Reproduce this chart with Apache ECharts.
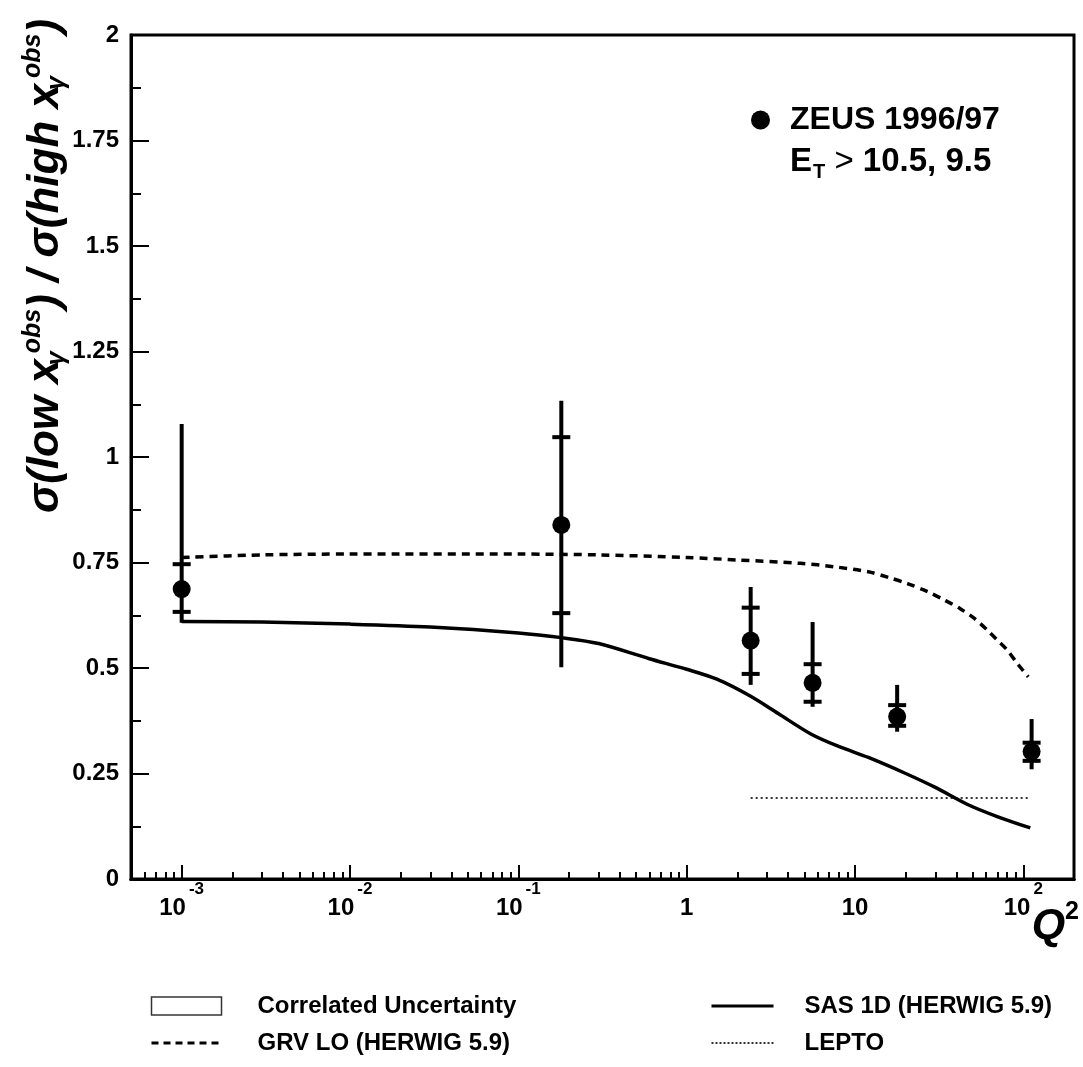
<!DOCTYPE html>
<html>
<head>
<meta charset="utf-8">
<script src="https://cdn.jsdelivr.net/npm/echarts@6/dist/echarts.min.js"></script>
<style>
  html, body { margin: 0; padding: 0; background: #fff; }
  #chart { width: 1083px; height: 1067px; }
</style>
</head>
<body>
<div id="chart"></div>
<script>
// ZEUS 1996/97 dijets: sigma(low x_gamma^obs) / sigma(high x_gamma^obs) versus Q^2

// measured points
const q2Points  = [0.001, 0.18, 2.4, 5.6, 17.8, 112];
const ratio     = [0.687, 0.839, 0.565, 0.465, 0.385, 0.302];
const statLow   = [0.633, 0.630, 0.486, 0.420, 0.363, 0.280];
const statHigh  = [0.746, 1.047, 0.643, 0.509, 0.412, 0.323];
const totLow    = [0.607, 0.502, 0.460, 0.408, 0.349, 0.260];
const totHigh   = [1.078, 1.133, 0.692, 0.609, 0.460, 0.379];

// SAS 1D (HERWIG 5.9)
const sasQ2    = [0.001, 0.003, 0.01, 0.03, 0.1, 0.18, 0.3, 0.6, 1.0, 1.5, 2.4, 3.5, 5.5, 8, 12, 20, 30, 47, 70, 110];
const sasRatio = [0.610, 0.609, 0.604, 0.597, 0.583, 0.572, 0.558, 0.522, 0.497, 0.474, 0.433, 0.392, 0.343, 0.314, 0.288, 0.250, 0.217, 0.176, 0.148, 0.121];

// GRV LO (HERWIG 5.9)
const grvQ2    = [0.001, 0.003, 0.01, 0.1, 0.3, 1, 2, 4.75, 7.5, 12, 16, 20.5, 27, 34, 42, 51, 61, 70, 80, 92, 107];
const grvRatio = [0.762, 0.768, 0.770, 0.770, 0.768, 0.762, 0.756, 0.748, 0.740, 0.728, 0.714, 0.700, 0.681, 0.661, 0.641, 0.618, 0.590, 0.566, 0.543, 0.511, 0.479];

// LEPTO
const leptoQ2    = [2.4, 107];
const leptoRatio = [0.192, 0.192];

// axis ticks
const majorTickExp = [-3, -2, -1, 0, 1, 2];
const minorMultipliers = [2, 3, 4, 5, 6, 7, 8, 9];

const Q2_MIN = 0.0005, Q2_MAX = 200;
const X_MIN = Math.log10(Q2_MIN), X_MAX = Math.log10(Q2_MAX);
const lg = v => Math.log10(v);

const minorTickExp = [];
for (let n = -4; n <= 2; n++) {
  minorMultipliers.forEach(k => {
    const v = k * Math.pow(10, n);
    if (v >= Q2_MIN && v < Q2_MAX) minorTickExp.push(lg(v));
  });
}

const FONT = '"Liberation Sans", Arial, Helvetica, sans-serif';

const chart = echarts.init(document.getElementById('chart'), null, { renderer: 'canvas' });

const curve = (xs, ys) => xs.map((q, i) => [lg(q), ys[i]]);

// line icons in the legend: keep the stroke, hide the marker
const lineOnly = { opacity: 0 };

const legendText = { color: '#000', fontFamily: FONT, fontWeight: 'bold', fontSize: 24, lineHeight: 24 };

const option = {
  animation: false,
  backgroundColor: '#fff',
  grid: {
    left: 131, right: 9, top: 35, bottom: 188,
    show: true, borderColor: '#000', borderWidth: 3, backgroundColor: 'transparent',
    containLabel: false, outerBoundsMode: 'none'
  },
  xAxis: [
    {
      type: 'value', min: X_MIN, max: X_MAX, position: 'bottom',
      axisLine: { show: true, onZero: false, lineStyle: { color: '#000', width: 3 } },
      axisTick: { show: true, inside: true, length: 14, customValues: majorTickExp, lineStyle: { color: '#000', width: 2 } },
      axisLabel: {
        show: true, customValues: majorTickExp, margin: 2,
        formatter: v => {
          const e = Math.round(v);
          if (e === 0) return '{b|1}';
          if (e === 1) return '{b|10}';
          return '{b|10}{s|' + e + '}';
        },
        rich: {
          b: { fontFamily: FONT, fontWeight: 'bold', fontSize: 24, color: '#000', padding: [15, 0, 0, 0] },
          s: { fontFamily: FONT, fontWeight: 'bold', fontSize: 17, color: '#000', verticalAlign: 'top', padding: [0, 0, 0, 3] }
        }
      },
      splitLine: { show: false }
    },
    {
      type: 'value', min: X_MIN, max: X_MAX, position: 'bottom',
      axisLine: { show: true, onZero: false, lineStyle: { color: '#000', width: 3 } },
      axisTick: { show: true, inside: true, length: 7, customValues: minorTickExp, lineStyle: { color: '#000', width: 2 } },
      axisLabel: { show: false },
      splitLine: { show: false }
    }
  ],
  yAxis: {
    type: 'value', min: 0, max: 2, interval: 0.25,
    axisLine: { show: true, onZero: false, lineStyle: { color: '#000', width: 3 } },
    axisTick: { show: true, inside: true, length: 18, lineStyle: { color: '#000', width: 2 } },
    minorTick: { show: true, splitNumber: 2, length: 10, lineStyle: { color: '#000', width: 2 } },
    axisLabel: { color: '#000', fontFamily: FONT, fontWeight: 'bold', fontSize: 24, margin: 12 },
    splitLine: { show: false }
  },
  legend: [
    {
      data: [{ name: 'ZEUS 1996/97', icon: 'circle', itemStyle: { color: '#000', opacity: 1 } }],
      left: 751, top: 104, padding: 0, itemWidth: 19, itemHeight: 19,
      textStyle: { color: '#000', fontFamily: FONT, fontWeight: 'bold', fontSize: 32, padding: [0, 0, 0, 15] },
      selectedMode: false
    },
    {
      data: [
        { name: 'Correlated Uncertainty', icon: 'rect', itemStyle: { color: '#fff', borderColor: '#000', borderWidth: 1.5 } },
        { name: 'GRV LO (HERWIG 5.9)', itemStyle: lineOnly, lineStyle: { width: 3, type: [7, 5] } }
      ],
      orient: 'vertical', left: 150, top: 994, padding: 0, itemWidth: 70, itemHeight: 18, itemGap: 13,
      textStyle: Object.assign({ padding: [0, 0, 0, 31] }, legendText),
      selectedMode: false
    },
    {
      data: [
        { name: 'SAS 1D (HERWIG 5.9)', itemStyle: lineOnly, lineStyle: { width: 3 } },
        { name: 'LEPTO', itemStyle: lineOnly, lineStyle: { width: 2, type: [2, 2] } }
      ],
      orient: 'vertical', left: 710, top: 994, padding: 0, itemWidth: 62, itemHeight: 18, itemGap: 13,
      textStyle: Object.assign({ padding: [0, 0, 0, 26] }, legendText),
      selectedMode: false
    }
  ],
  graphic: [
    {
      type: 'text', x: 790, y: 162,
      style: {
        text: '{m|E}{sub|T}{r| > }{m|10.5, 9.5}',
        verticalAlign: 'middle', align: 'left',
        rich: {
          m: { fontFamily: FONT, fontWeight: 'bold', fontSize: 33, fill: '#000' },
          sub: { fontFamily: FONT, fontWeight: 'bold', fontSize: 20, fill: '#000', padding: [20, 0, 0, 1] },
          r: { fontFamily: FONT, fontWeight: 'normal', fontSize: 33, fill: '#000' }
        }
      }
    },
    {
      type: 'text', x: 1079, y: 926,
      style: {
        text: '{q|Q}{s|2}',
        align: 'right', verticalAlign: 'middle',
        rich: {
          q: { fontFamily: FONT, fontWeight: 'bold', fontStyle: 'italic', fontSize: 43, fill: '#000' },
          s: { fontFamily: FONT, fontWeight: 'bold', fontSize: 25, fill: '#000', padding: [0, 0, 28, 0] }
        }
      }
    },
    {
      type: 'text', x: 46, y: 266, rotation: Math.PI / 2,
      style: {
        text: '{t|σ(low x}{sub|γ}{sup|obs}{t|) / σ(high x}{sub|γ}{sup|obs}{t|)}',
        align: 'center', verticalAlign: 'middle',
        rich: {
          t: { fontFamily: FONT, fontWeight: 'bold', fontStyle: 'italic', fontSize: 44, fill: '#000' },
          sub: { fontFamily: FONT, fontWeight: 'bold', fontStyle: 'italic', fontSize: 25, fill: '#000', padding: [22, 0, 0, 0], width: 2 },
          sup: { fontFamily: FONT, fontWeight: 'bold', fontStyle: 'italic', fontSize: 25, fill: '#000', padding: [0, 0, 26, 4] }
        }
      }
    }
  ],
  series: [
    {
      name: 'Correlated Uncertainty', type: 'scatter', data: [],
      itemStyle: { color: '#fff', borderColor: '#000', borderWidth: 1.5 }
    },
    {
      name: 'LEPTO', type: 'line', showSymbol: false, symbol: 'none',
      data: curve(leptoQ2, leptoRatio),
      lineStyle: { color: '#333', width: 2, type: [2, 3] },
      itemStyle: { color: '#333' }, z: 2
    },
    {
      name: 'GRV LO (HERWIG 5.9)', type: 'line', showSymbol: false, symbol: 'none', smooth: 0.3,
      data: curve(grvQ2, grvRatio),
      lineStyle: { color: '#000', width: 3.5, type: [8, 6] },
      itemStyle: { color: '#000' }, z: 2
    },
    {
      name: 'SAS 1D (HERWIG 5.9)', type: 'line', showSymbol: false, symbol: 'none', smooth: 0.3,
      data: curve(sasQ2, sasRatio),
      lineStyle: { color: '#000', width: 3.5, type: 'solid' },
      itemStyle: { color: '#000' }, z: 2
    },
    {
      name: 'ZEUS errors', type: 'custom',
      data: q2Points.map((q, i) => [lg(q), statLow[i], statHigh[i], totLow[i], totHigh[i]]),
      encode: { x: 0, y: [1, 2, 3, 4] },
      renderItem: (params, api) => {
        const x = api.value(0);
        const sLo = api.coord([x, api.value(1)]);
        const sHi = api.coord([x, api.value(2)]);
        const tLo = api.coord([x, api.value(3)]);
        const tHi = api.coord([x, api.value(4)]);
        const hw = 9;
        const st = { stroke: '#000', lineWidth: 4 };
        return {
          type: 'group',
          children: [
            { type: 'line', shape: { x1: tLo[0], y1: tLo[1], x2: tHi[0], y2: tHi[1] }, style: st },
            { type: 'line', shape: { x1: sLo[0] - hw, y1: sLo[1], x2: sLo[0] + hw, y2: sLo[1] }, style: st },
            { type: 'line', shape: { x1: sHi[0] - hw, y1: sHi[1], x2: sHi[0] + hw, y2: sHi[1] }, style: st }
          ]
        };
      },
      z: 3
    },
    {
      name: 'ZEUS 1996/97', type: 'scatter', symbol: 'circle', symbolSize: 18,
      data: q2Points.map((q, i) => [lg(q), ratio[i]]),
      itemStyle: { color: '#000', opacity: 1 }, z: 4
    }
  ]
};

chart.setOption(option);
</script>
</body>
</html>
